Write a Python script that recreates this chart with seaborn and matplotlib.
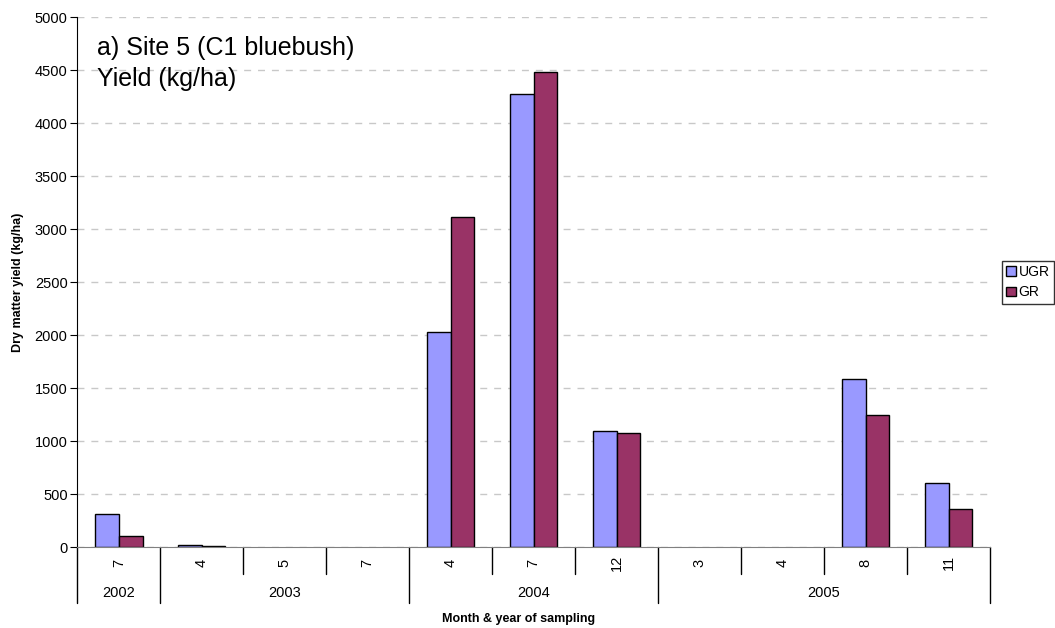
import matplotlib
matplotlib.use('Agg')
import matplotlib.pyplot as plt
import matplotlib.transforms as mtransforms
from matplotlib.patches import Patch
import pandas as pd
import seaborn as sns

# valores
meses = ['7', '4', '5', '7', '4', '7', '12', '3', '4', '8', '11']
anos = ['2002', '2003', '2003', '2003', '2004', '2004', '2004', '2005', '2005', '2005', '2005']
ugr = [315, 18, 0, 0, 2030, 4280, 1100, 0, 0, 1590, 610]
gr = [110, 8, 0, 0, 3115, 4480, 1075, 0, 0, 1245, 365]
series = ['UGR', 'GR']
cores = ['#9999FF', '#993366']
yticks = list(range(0, 5001, 500))

# monta a tabela longa para o seaborn
amostras = [m + '/' + a for m, a in zip(meses, anos)]
df = pd.DataFrame({
    'amostra': amostras * 2,
    'serie': ['UGR'] * len(ugr) + ['GR'] * len(gr),
    'valor': ugr + gr,
})

sns.set_style('white')
plt.rcParams['font.family'] = ['Liberation Sans', 'DejaVu Sans']
plt.rcParams['text.color'] = 'black'
plt.rcParams['xtick.color'] = 'black'
plt.rcParams['ytick.color'] = 'black'
plt.rcParams['axes.labelcolor'] = 'black'

fig = plt.figure(figsize=(10.55, 6.28), dpi=100)
ax = fig.add_axes([0.0733, 0.1285, 0.8651, 0.844])

sns.barplot(data=df, x='amostra', y='valor', hue='serie', order=amostras,
            hue_order=series, palette=cores, width=0.571, saturation=1,
            edgecolor='black', linewidth=1, legend=False, ax=ax)

# barras com valor zero nao aparecem
for p in ax.patches:
    if p.get_height() == 0:
        p.set_linewidth(0)

ax.set_xlim(-0.5, len(meses) - 0.5)
ax.set_ylim(0, 5000)
ax.set_yticks(yticks)
ax.yaxis.grid(True, linestyle=(0, (5, 5)), color='#C8C8C8', linewidth=1)
ax.set_axisbelow(True)
ax.tick_params(axis='y', direction='out', length=5, color='black', labelsize=10.5,
               left=True, pad=2)
ax.set_ylabel('')
ax.set_xlabel('')

for s in ['top', 'right']:
    ax.spines[s].set_visible(False)
ax.spines['left'].set_color('black')
ax.spines['bottom'].set_color('#808080')

# rotulos dos meses
ax.set_xticks(range(len(meses)))
ax.set_xticklabels(meses, rotation=90, fontsize=10.5)
ax.tick_params(axis='x', length=0, pad=11)
for lab in ax.get_xticklabels():
    lab.set_va('center')

# separadores do eixo de categorias em dois niveis
trans = mtransforms.blended_transform_factory(ax.transData, ax.transAxes)
limites_ano = [0]
for i in range(1, len(anos)):
    if anos[i] != anos[i - 1]:
        limites_ano.append(i)
limites_ano.append(len(anos))
for i in range(len(anos) + 1):
    ybot = -0.105 if i in limites_ano else -0.0504
    ax.plot([i - 0.5, i - 0.5], [0, ybot], transform=trans, color='black',
            lw=1, clip_on=False)

# rotulos dos anos
for a, b in zip(limites_ano[:-1], limites_ano[1:]):
    ax.text((a + b - 1) / 2, -0.0862, anos[a], transform=trans, ha='center',
            va='center', fontsize=10.5)

fig.text(0.492, 0.0143, 'Month & year of sampling', ha='center', va='center',
         fontsize=9, fontweight='bold')
fig.text(0.017, 0.551, 'Dry matter yield (kg/ha)', ha='center', va='center',
         rotation=90, fontsize=9, fontweight='bold')

fig.text(0.0919, 1 - 36 / 628, 'a) Site 5 (C1 bluebush)\nYield (kg/ha)',
         ha='left', va='top', fontsize=18, linespacing=1.35)

handles = [Patch(facecolor=c, edgecolor='black', label=s) for s, c in zip(series, cores)]
leg = fig.legend(handles=handles, loc='upper left', bbox_to_anchor=(0.9497, 0.5844),
                 frameon=True, fancybox=False, edgecolor='black', fontsize=10,
                 handlelength=0.7, handleheight=0.7, handletextpad=0.2,
                 borderpad=0.3, labelspacing=0.45, borderaxespad=0)
leg.get_frame().set_linewidth(1)

fig.savefig('out.png', dpi=100)
